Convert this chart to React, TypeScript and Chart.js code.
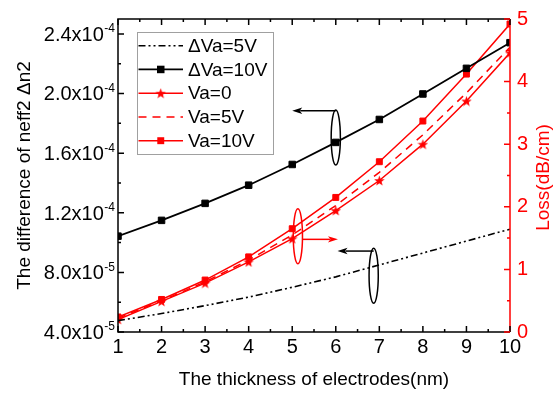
import React, { useEffect, useRef } from 'react';
import { Chart, registerables } from 'chart.js';

Chart.register(...registerables);

// Electrode thickness (nm)
const thickness = [1, 2, 3, 4, 5, 6, 7, 8, 9, 10];

// Difference of neff2, Δn2 (left axis)
const dn2DeltaVa5 = [4.76e-5, 5.24e-5, 5.77e-5, 6.34e-5, 7.0e-5, 7.7e-5, 8.5e-5, 9.3e-5, 1.01e-4, 1.09e-4];
const dn2DeltaVa10 = [1.043e-4, 1.149e-4, 1.263e-4, 1.385e-4, 1.524e-4, 1.672e-4, 1.826e-4, 1.997e-4, 2.169e-4, 2.341e-4];

// Loss in dB/cm (right axis)
const lossVa0 = [0.2, 0.49, 0.78, 1.12, 1.49, 1.94, 2.42, 3.0, 3.69, 4.46];
const lossVa5 = [0.22, 0.5, 0.8, 1.15, 1.55, 2.02, 2.55, 3.15, 3.82, 4.55];
const lossVa10 = [0.24, 0.52, 0.83, 1.2, 1.65, 2.15, 2.72, 3.37, 4.12, 4.92];

// Tick values and labels
const xTickValues = [1, 2, 3, 4, 5, 6, 7, 8, 9, 10];
const leftTickValues = [4e-5, 8e-5, 1.2e-4, 1.6e-4, 2.0e-4, 2.4e-4];
const leftTickMantissa = ['4.0', '8.0', '1.2', '1.6', '2.0', '2.4'];
const leftTickExponent = ['-5', '-5', '-4', '-4', '-4', '-4'];
const rightTickValues = [0, 1, 2, 3, 4, 5];
const rightAxisTitle = 'Loss(dB/cm)';

const FONT = '"Liberation Sans", Arial, Helvetica, sans-serif';
const RED = '#ff0000';
const BLACK = '#000000';

// Callout ellipses with arrows pointing to the axis each group belongs to
const callouts = [
  { axis: 'yL', color: BLACK, cx: 6, cy: 1.705e-4, fromX: 6, fromY: 1.884e-4, toX: 5.0, startAtTop: true },
  { axis: 'yR', color: RED, cx: 5.13, cy: 1.53, fromX: 5.13, fromY: 1.48, toX: 6.05, startAtTop: false },
  { axis: 'yL', color: BLACK, cx: 6.87, cy: 7.78e-5, fromX: 6.87, fromY: 9.43e-5, toX: 6.04, startAtTop: true },
];

function makeStar(size: number, color: string) {
  const c = document.createElement('canvas');
  c.width = size;
  c.height = size;
  const g = c.getContext('2d')!;
  const cx = size / 2;
  const cy = size / 2 + 0.5;
  const R = size / 2;
  const r = R * 0.42;
  g.beginPath();
  for (let i = 0; i < 10; i++) {
    const a = -Math.PI / 2 + (i * Math.PI) / 5;
    const rad = i % 2 === 0 ? R : r;
    g.lineTo(cx + rad * Math.cos(a), cy + rad * Math.sin(a));
  }
  g.closePath();
  g.fillStyle = color;
  g.fill();
  return c;
}

function drawArrowHead(ctx: CanvasRenderingContext2D, x: number, y: number, dir: number, color: string) {
  ctx.beginPath();
  ctx.moveTo(x, y);
  ctx.lineTo(x - dir * 10, y - 3.2);
  ctx.lineTo(x - dir * 7.5, y);
  ctx.lineTo(x - dir * 10, y + 3.2);
  ctx.closePath();
  ctx.fillStyle = color;
  ctx.fill();
}

const originAxesPlugin = {
  id: 'originAxes',
  afterDatasetsDraw(chart: any) {
    const { ctx, chartArea: a, scales } = chart;
    const sx = scales.x;
    const yL = scales.yL;
    const yR = scales.yR;
    ctx.save();

    // callouts
    ctx.lineWidth = 1.5;
    callouts.forEach((c) => {
      const ys = c.axis === 'yL' ? yL : yR;
      const px = sx.getPixelForValue(c.cx);
      const py = ys.getPixelForValue(c.cy);
      const rx = 4.6;
      const ry = 27.5;
      ctx.strokeStyle = c.color;
      ctx.beginPath();
      ctx.ellipse(px, py, rx, ry, 0, 0, Math.PI * 2);
      ctx.stroke();
      const fx = sx.getPixelForValue(c.fromX);
      const fy = ys.getPixelForValue(c.fromY);
      const tx = sx.getPixelForValue(c.toX);
      const dir = tx > fx ? 1 : -1;
      const startX = c.startAtTop ? fx : fx + rx;
      ctx.beginPath();
      ctx.moveTo(startX, fy);
      ctx.lineTo(tx - dir * 8, fy);
      ctx.stroke();
      drawArrowHead(ctx, tx, fy, dir, c.color);
    });

    // frame
    ctx.lineWidth = 1.5;
    ctx.strokeStyle = BLACK;
    ctx.beginPath();
    ctx.moveTo(a.right, a.top);
    ctx.lineTo(a.left, a.top);
    ctx.lineTo(a.left, a.bottom);
    ctx.lineTo(a.right, a.bottom);
    ctx.stroke();
    ctx.strokeStyle = RED;
    ctx.beginPath();
    ctx.moveTo(a.right, a.top);
    ctx.lineTo(a.right, a.bottom);
    ctx.stroke();

    const major = 6;
    const minor = 3;
    // x ticks (bottom and top, inward)
    ctx.strokeStyle = BLACK;
    ctx.beginPath();
    xTickValues.forEach((v, i) => {
      const p = sx.getPixelForValue(v);
      ctx.moveTo(p, a.bottom);
      ctx.lineTo(p, a.bottom - major);
      ctx.moveTo(p, a.top);
      ctx.lineTo(p, a.top + major);
      if (i < xTickValues.length - 1) {
        const m = sx.getPixelForValue((v + xTickValues[i + 1]) / 2);
        ctx.moveTo(m, a.bottom);
        ctx.lineTo(m, a.bottom - minor);
        ctx.moveTo(m, a.top);
        ctx.lineTo(m, a.top + minor);
      }
    });
    // left ticks
    leftTickValues.forEach((v, i) => {
      const p = yL.getPixelForValue(v);
      ctx.moveTo(a.left, p);
      ctx.lineTo(a.left + major, p);
      if (i < leftTickValues.length - 1) {
        const m = yL.getPixelForValue((v + leftTickValues[i + 1]) / 2);
        ctx.moveTo(a.left, m);
        ctx.lineTo(a.left + minor, m);
      }
    });
    ctx.stroke();

    // right ticks
    ctx.strokeStyle = RED;
    ctx.beginPath();
    rightTickValues.forEach((v, i) => {
      const p = yR.getPixelForValue(v);
      ctx.moveTo(a.right, p);
      ctx.lineTo(a.right - major, p);
      if (i < rightTickValues.length - 1) {
        const m = yR.getPixelForValue((v + rightTickValues[i + 1]) / 2);
        ctx.moveTo(a.right, m);
        ctx.lineTo(a.right - minor, m);
      }
    });
    ctx.stroke();

    // right axis title, reading bottom to top
    ctx.save();
    ctx.translate(yR.right - 16, (a.top + a.bottom) / 2 + 2);
    ctx.rotate(-Math.PI / 2);
    ctx.fillStyle = RED;
    ctx.font = `19px ${FONT}`;
    ctx.textAlign = 'center';
    ctx.textBaseline = 'middle';
    ctx.fillText(rightAxisTitle, 0, 0);
    ctx.restore();

    // left tick labels: mantissa x 10 with superscript exponent
    ctx.fillStyle = BLACK;
    ctx.textBaseline = 'alphabetic';
    ctx.textAlign = 'right';
    leftTickValues.forEach((v, i) => {
      const p = yL.getPixelForValue(v);
      const rightEdge = a.left - 3;
      ctx.font = `12px ${FONT}`;
      const sup = leftTickExponent[i];
      const supW = ctx.measureText(sup).width;
      ctx.fillText(sup, rightEdge, p - 1.6);
      ctx.font = `20px ${FONT}`;
      ctx.fillText(`${leftTickMantissa[i]}x10`, rightEdge - supW - 0.5, p + 6.9);
    });

    // legend
    const lx = a.left + 19;
    const ly = a.top + 13;
    const lw = 136;
    const lh = 122;
    ctx.fillStyle = '#ffffff';
    ctx.fillRect(lx, ly, lw, lh);
    ctx.strokeStyle = '#a0a0a0';
    ctx.lineWidth = 1;
    ctx.setLineDash([]);
    ctx.strokeRect(lx + 0.5, ly + 0.5, lw, lh);
    chart.data.datasets.forEach((ds: any, i: number) => {
      const rowY = ly + 13.7 + i * 23.75;
      const x0 = lx + 1.5;
      const x1 = lx + 46;
      ctx.save();
      ctx.strokeStyle = ds.borderColor;
      ctx.lineWidth = ds.borderWidth;
      ctx.setLineDash(ds.borderDash || []);
      ctx.beginPath();
      ctx.moveTo(x0, rowY);
      ctx.lineTo(x1, rowY);
      ctx.stroke();
      ctx.restore();
      const mx = (x0 + x1) / 2;
      if (ds.pointRadius > 0) {
        if (ds.pointStyle === 'rect') {
          const s = ds.pointRadius * Math.SQRT1_2 + 0.5;
          ctx.fillStyle = ds.pointBackgroundColor;
          ctx.fillRect(mx - s, rowY - s, 2 * s, 2 * s);
        } else if (ds.pointStyle instanceof HTMLCanvasElement) {
          const img = ds.pointStyle;
          ctx.drawImage(img, mx - img.width / 2, rowY - img.height / 2);
        }
      }
      ctx.fillStyle = BLACK;
      ctx.font = `19px ${FONT}`;
      ctx.textAlign = 'left';
      ctx.textBaseline = 'middle';
      ctx.fillText(ds.label, lx + 51, rowY + 1);
    });

    ctx.restore();
  },
};

export default function App() {
  const ref = useRef<HTMLCanvasElement>(null);

  useEffect(() => {
    const star = makeStar(11, RED);
    const pts = (ys: number[]) => thickness.map((x, i) => ({ x, y: ys[i] }));
    const chart = new Chart(ref.current!, {
      type: 'line',
      data: {
        datasets: [
          {
            label: 'ΔVa=5V',
            data: pts(dn2DeltaVa5),
            yAxisID: 'yL',
            borderColor: BLACK,
            borderWidth: 1.6,
            borderDash: [7, 3, 2, 3, 2, 3],
            pointRadius: 0,
            tension: 0,
          },
          {
            label: 'ΔVa=10V',
            data: pts(dn2DeltaVa10),
            yAxisID: 'yL',
            borderColor: BLACK,
            borderWidth: 1.8,
            pointStyle: 'rect',
            pointRadius: 4.6,
            pointBackgroundColor: BLACK,
            pointBorderColor: BLACK,
            pointBorderWidth: 1,
            tension: 0,
          },
          {
            label: 'Va=0',
            data: pts(lossVa0),
            yAxisID: 'yR',
            borderColor: RED,
            borderWidth: 1.5,
            pointStyle: star as any,
            pointRadius: 5,
            pointBackgroundColor: RED,
            tension: 0,
          },
          {
            label: 'Va=5V',
            data: pts(lossVa5),
            yAxisID: 'yR',
            borderColor: RED,
            borderWidth: 1.5,
            borderDash: [8, 6],
            pointRadius: 0,
            tension: 0,
          },
          {
            label: 'Va=10V',
            data: pts(lossVa10),
            yAxisID: 'yR',
            borderColor: RED,
            borderWidth: 1.5,
            pointStyle: 'rect',
            pointRadius: 4.2,
            pointBackgroundColor: RED,
            pointBorderColor: RED,
            pointBorderWidth: 1,
            tension: 0,
          },
        ],
      },
      options: {
        responsive: false,
        animation: false,
        events: [],
        layout: { padding: { top: 15, left: 0, right: 0, bottom: 0 } },
        plugins: {
          legend: { display: false },
          title: { display: false },
          tooltip: { enabled: false },
        },
        scales: {
          x: {
            type: 'linear',
            position: 'bottom',
            min: 1,
            max: 10,
            grid: { display: false, drawTicks: false },
            border: { display: false },
            afterBuildTicks: (s: any) => {
              s.ticks = xTickValues.map((value) => ({ value }));
            },
            afterFit: (s: any) => {
              s.height = 66;
            },
            ticks: {
              color: BLACK,
              padding: 3,
              font: { family: FONT, size: 20 },
              callback: (v: any) => String(v),
            },
            title: {
              display: true,
              text: 'The thickness of electrodes(nm)',
              color: BLACK,
              font: { family: FONT, size: 19 },
              padding: { top: 0, bottom: 6.5 },
            },
          },
          yL: {
            type: 'linear',
            position: 'left',
            min: 4e-5,
            max: 2.5e-4,
            grid: { display: false, drawTicks: false },
            border: { display: false },
            afterBuildTicks: (s: any) => {
              s.ticks = leftTickValues.map((value) => ({ value }));
            },
            afterFit: (s: any) => {
              s.width = 118;
            },
            ticks: { display: false },
            title: {
              display: true,
              text: 'The difference of neff2 Δn2',
              color: BLACK,
              font: { family: FONT, size: 19 },
              padding: { top: 13.6, bottom: 0 },
            },
          },
          yR: {
            type: 'linear',
            position: 'right',
            min: 0,
            max: 5,
            grid: { display: false, drawTicks: false },
            border: { display: false },
            afterBuildTicks: (s: any) => {
              s.ticks = rightTickValues.map((value) => ({ value }));
            },
            afterFit: (s: any) => {
              s.width = 50;
            },
            ticks: {
              color: RED,
              padding: 7,
              font: { family: FONT, size: 20 },
              callback: (v: any) => String(v),
            },
            title: { display: false },
          },
        },
      },
      plugins: [originAxesPlugin],
    } as any);
    return () => chart.destroy();
  }, []);

  return (
    <div style={{ position: 'fixed', left: 0, top: 0, width: 560, height: 398, background: '#ffffff' }}>
      <canvas ref={ref} width={560} height={398} style={{ display: 'block' }} />
    </div>
  );
}
